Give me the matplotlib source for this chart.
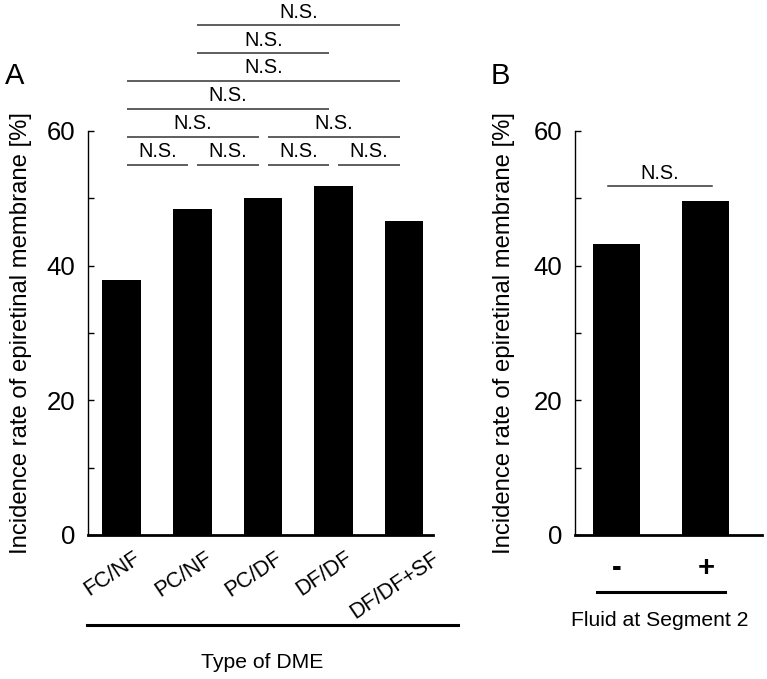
import matplotlib
matplotlib.use("Agg")
import matplotlib.pyplot as plt
from matplotlib.lines import Line2D
import matplotlib.transforms as mtransforms

plt.rcParams['font.family'] = ['Liberation Sans', 'DejaVu Sans']

# Panel A data
cats_a = ["FC/NF", "PC/NF", "PC/DF", "DF/DF", "DF/DF+SF"]
vals_a = [37.9, 48.4, 50.1, 51.8, 46.6]
# significance brackets: (i, j, level)
sig_a = [(0, 1, 0), (1, 2, 0), (2, 3, 0), (3, 4, 0),
         (0, 2, 1), (2, 4, 1), (0, 3, 2), (0, 4, 3), (1, 3, 4), (1, 4, 5)]
sig_label = "N.S."

# Panel B data
cats_b = ["-", "+"]
vals_b = [43.2, 49.6]

ylabel = "Incidence rate of epiretinal membrane [%]"
yticks = [0, 20, 40, 60]
yminor = [10, 30, 50]

W, H = 767, 679
fig = plt.figure(figsize=(W / 100, H / 100), dpi=100)

def fx(px):
    return px / W

def fy(py):
    return 1 - py / H

axA = fig.add_axes([fx(88), fy(535), fx(433) - fx(88), fy(131) - fy(535)])
axB = fig.add_axes([fx(575), fy(535), fx(762) - fx(575), fy(131) - fy(535)])

def style(ax):
    ax.set_ylim(0, 60)
    ax.set_yticks(yticks)
    ax.set_yticks(yminor, minor=True)
    ax.spines['top'].set_visible(False)
    ax.spines['right'].set_visible(False)
    ax.spines['left'].set_linewidth(1.0)
    ax.spines['bottom'].set_linewidth(2.0)
    ax.tick_params(axis='y', which='major', direction='in', length=4, width=1,
                   labelsize=18.5, pad=9)
    ax.tick_params(axis='y', which='minor', direction='in', length=4, width=1)
    ax.tick_params(axis='x', length=0)
    ax.set_ylabel(ylabel, fontsize=17.2)

# Panel A
xa = list(range(len(cats_a)))
axA.bar(xa, vals_a, width=0.55, color='black')
axA.set_xlim(-0.48, 4.41)
style(axA)
axA.set_xticks(xa)
axA.set_xticklabels(cats_a, rotation=34, ha='center', fontsize=15.5)
axA.tick_params(axis='x', pad=9)
shift = mtransforms.ScaledTranslation(-9 / 100, 0, fig.dpi_scale_trans)
for lab in axA.get_xticklabels():
    lab.set_transform(lab.get_transform() + shift)
axA.yaxis.set_label_coords(-0.162, 0.5)

base = 55.0
step = 4.15
for i, j, lvl in sig_a:
    y = base + lvl * step
    x0 = i + 0.07
    x1 = j - 0.06
    axA.plot([x0, x1], [y, y], color='#333333', lw=1.1, clip_on=False,
             solid_capstyle='butt')
    axA.text((x0 + x1) / 2, y + 0.5, sig_label, ha='center', va='bottom',
             fontsize=14.3)

# Panel B
xb = list(range(len(cats_b)))
axB.bar(xb, vals_b, width=0.53, color='black')
axB.set_xlim(-0.47, 1.63)
style(axB)
axB.set_xticks(xb)
axB.set_xticklabels(cats_b, fontsize=21, fontweight='bold')
axB.tick_params(axis='x', pad=14)
axB.yaxis.set_label_coords(-0.321, 0.5)
yb = 51.8
axB.plot([-0.1, 1.07], [yb, yb], color='#333333', lw=1.1, clip_on=False)
axB.text((-0.1 + 1.07) / 2, yb + 0.5, sig_label, ha='center', va='bottom',
         fontsize=14.3)

# group lines and titles
fig.add_artist(Line2D([fx(87), fx(458)], [fy(625), fy(625)], color='black', lw=2.2))
fig.text(fx(262), fy(662), "Type of DME", ha='center', va='center', fontsize=15.2)
fig.add_artist(Line2D([fx(597), fx(725)], [fy(592), fy(592)], color='black', lw=2.2))
fig.text(fx(660), fy(620), "Fluid at Segment 2", ha='center', va='center', fontsize=15.2)

fig.text(fx(15), fy(76), "A", ha='center', va='center', fontsize=21)
fig.text(fx(500), fy(76), "B", ha='center', va='center', fontsize=21)

fig.savefig("out.png", dpi=100)
